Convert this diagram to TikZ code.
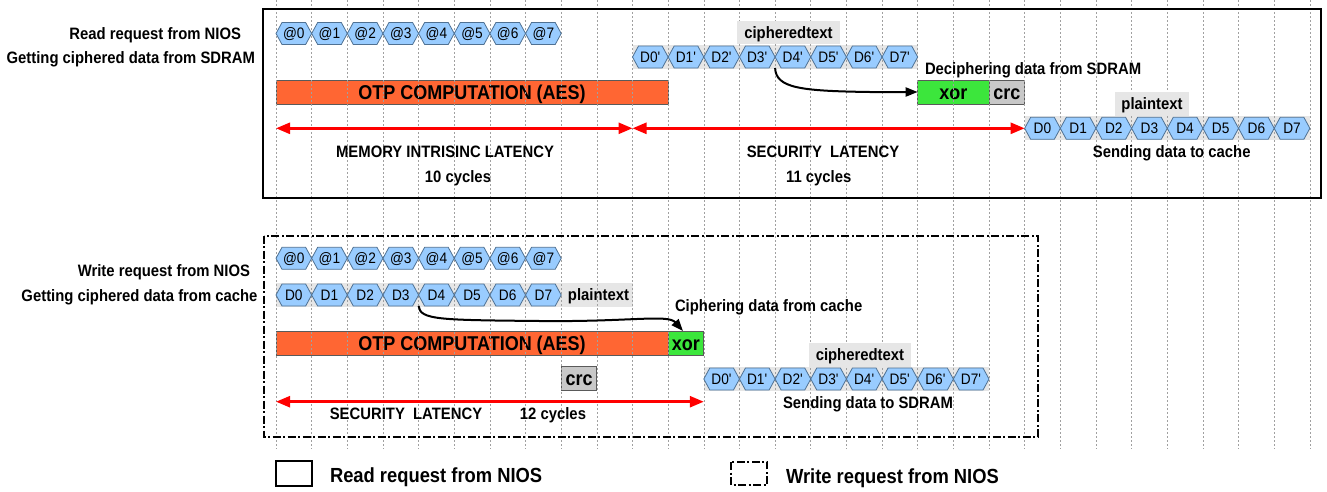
\documentclass[tikz,border=0pt]{standalone}
\usepackage{fontspec}
\setmainfont{Liberation Sans}[FakeStretch=0.9]
\usetikzlibrary{arrows.meta}
\definecolor{hexfill}{HTML}{99CCFF}
\definecolor{hexdraw}{HTML}{4F7193}
\definecolor{bandc}{HTML}{E6E6E6}
\definecolor{otpc}{HTML}{FF6633}
\definecolor{xorc}{HTML}{3CE63C}
\definecolor{crcc}{HTML}{C8C8C8}
\definecolor{bardraw}{HTML}{5A5A5A}
\definecolor{gridc}{HTML}{A0A0A0}
\newcommand\hexcell[4]{%
  \pgfmathsetmacro\hxl{276+35.65*(#2)}%
  \pgfmathsetmacro\hxr{\hxl+35.65}%
  \draw[hexshape] (\hxl,#3) -- ({\hxl+6},{#3-11}) -- ({\hxr-6},{#3-11}) -- (\hxr,#3) -- ({\hxr-6},{#3+11}) -- ({\hxl+6},{#3+11}) -- cycle;
  \node[hexlabel] (#1) at ({\hxl+17.825},#3) {#4};
}
\begin{document}
\begin{tikzpicture}[x=1pt,y=-1pt,
  lbl/.style={inner sep=0pt, outer sep=0pt, text height=11.9pt, text depth=0pt, font=\fontsize{16.5}{18}\selectfont\bfseries},
  biglbl/.style={lbl, text height=14.7pt, font=\fontsize{20.4}{22}\selectfont\bfseries},
  hexshape/.style={fill=hexfill, draw=hexdraw, line width=0.8pt, line join=miter},
  hexlabel/.style={inner sep=0pt, outer sep=0pt, text height=10.9pt, text depth=0pt, font=\fontsize{15.2}{17}\selectfont},
  bar/.style={draw=bardraw, line width=1pt, inner sep=0pt, outer sep=0pt, text height=14.4pt, text depth=0pt, font=\fontsize{20}{22}\selectfont\bfseries},
  otpbar/.style={bar, fill=otpc},
  xorbar/.style={bar, fill=xorc},
  crcbar/.style={bar, fill=crcc},
  tagbox/.style={lbl, fill=bandc},
  bandfill/.style={fill=bandc},
  gridline/.style={draw=gridc, line width=0.6pt, dash pattern=on 2pt off 2pt},
  redarrow/.style={draw=red, line width=2.5pt, {Triangle[length=14pt,width=11pt]}-{Triangle[length=14pt,width=11pt]}},
  curvearrow/.style={draw=black, line width=2pt, -{Triangle[length=12pt,width=9pt]}},
  framebox/.style={draw=black, line width=2.3pt},
  dashframe/.style={framebox, dash pattern=on 8pt off 2.5pt on 2pt off 2.5pt},
]
\useasboundingbox (0,0) rectangle (1327,491);

% bands behind hexagon rows
\fill[bandfill] (632.5,45) rectangle (917.7,69);
\fill[bandfill] (1024.65,116.3) rectangle (1309.85,140.3);
\fill[bandfill] (276,283.3) rectangle (632.5,306.7);
\fill[bandfill] (703.8,367.3) rectangle (989,390.7);

% bars (top)
\node[otpbar, minimum width=392.15, minimum height=24] (otpR) at (472.075,92) {OTP COMPUTATION (AES)};
\node[xorbar, minimum width=71.3, minimum height=24] (xorR) at (953.35,92) {xor};
\node[crcbar, minimum width=35.65, minimum height=24] (crcR) at (1006.825,92) {crc};
% bars (bottom)
\node[otpbar, minimum width=392.15, minimum height=24] (otpW) at (472.075,343) {OTP COMPUTATION (AES)};
\node[xorbar, minimum width=35.65, minimum height=24] (xorW) at (685.975,343) {xor};
\node[crcbar, minimum width=35.65, minimum height=24] (crcW) at (579.025,378.7) {crc};

% grid
\foreach \k in {0,...,29} {
  \draw[gridline] ({276+35.65*\k},0) -- ({276+35.65*\k},449);
}

% hexagon rows
\foreach \i in {0,...,7} {
  \hexcell{ra\i}{\i}{33.5}{@\i}
  \hexcell{rc\i}{\i+10}{57}{D\i\textquotesingle}
  \hexcell{rp\i}{\i+21}{128.3}{D\i}
  \hexcell{wa\i}{\i}{258.3}{@\i}
  \hexcell{wp\i}{\i}{295}{D\i}
  \hexcell{wc\i}{\i+12}{379}{D\i\textquotesingle}
}

% tag boxes
\node[tagbox, minimum width=103, minimum height=23.3] (ctR) at (788.5,32.7) {cipheredtext};
\node[tagbox, minimum width=74, minimum height=23.4] (ptR) at (1152,104) {plaintext};
\node[tagbox, minimum width=101.7, minimum height=23.4] (ctW) at (859.9,355) {cipheredtext};
\node[lbl] (ptW) at (598.5,295) {plaintext};

% left labels
\node[lbl, anchor=east] (l1) at (241,34) {Read request from NIOS};
\node[lbl, anchor=east] (l2) at (255,57.5) {Getting ciphered data from SDRAM};
\node[lbl, anchor=east] (l3) at (250,271) {Write request from NIOS};
\node[lbl, anchor=east] (l4) at (257.5,295.5) {Getting ciphered data from cache};

% other texts (top)
\node[lbl, anchor=west] (decT) at (925,68.3) {Deciphering data from SDRAM};
\node[lbl] (memT) at (445,152) {MEMORY INTRISINC LATENCY};
\node[lbl] (memC) at (458,176.5) {10 cycles};
\node[lbl] (secT) at (823,152) {SECURITY\ \ LATENCY};
\node[lbl] (secC) at (818.7,176.7) {11 cycles};
\node[lbl] (sndR) at (1171.7,152) {Sending data to cache};
% other texts (bottom)
\node[lbl, anchor=west] (cipT) at (675,306) {Ciphering data from cache};
\node[lbl] (sndW) at (868,402.7) {Sending data to SDRAM};
\node[lbl] (secW) at (406,414) {SECURITY\ \ LATENCY};
\node[lbl] (secWC) at (553,414) {12 cycles};

% red latency arrows
\coordinate (rA) at (276,128.3);
\coordinate (rB) at (632.5,128.3);
\coordinate (rC) at (1024.65,128.3);
\coordinate (wA) at (276,401.7);
\coordinate (wB) at (703.8,401.7);
\draw[redarrow] (rA) -- (rB);
\draw[redarrow] (rB) -- (rC);
\draw[redarrow] (wA) -- (wB);

% curved data arrows
\coordinate (sR) at (775.1,68);
\draw[curvearrow] (sR) .. controls (776,88) and (800,91) .. (870,92) -- (xorR.west);
\coordinate (sW) at (418.6,306);
\draw[curvearrow] (sW) .. controls (420,320) and (440,320) .. (540,321) .. controls (630,322) and (668,314) .. ([xshift=-3pt]xorW.north);

% frames
\draw[framebox] (263.3,9.3) rectangle (1321,198.3);
\draw[dashframe] (264,235.7) rectangle (1037.7,437);

% legend
\draw[framebox] (276,461) rectangle (312.3,485.7);
\node[biglbl, anchor=west] (legR) at (330,475) {Read request from NIOS};
\draw[dashframe] (731,462) rectangle (767.3,485);
\node[biglbl, anchor=west] (legW) at (786,476) {Write request from NIOS};
\end{tikzpicture}
\end{document}
